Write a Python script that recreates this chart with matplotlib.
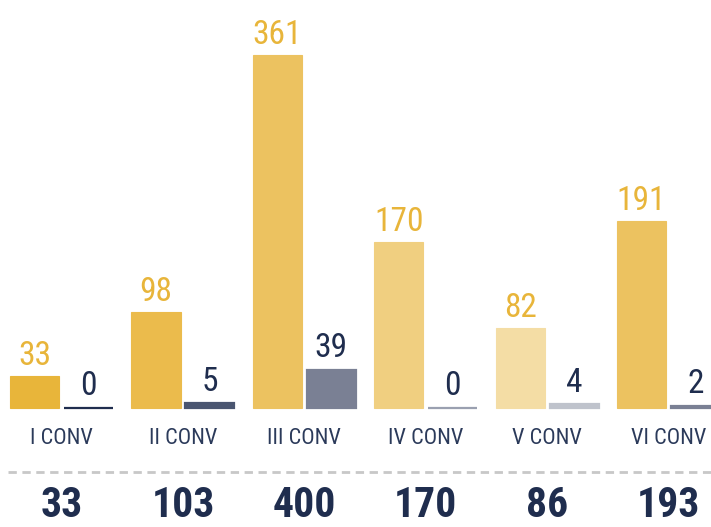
import matplotlib
matplotlib.use("Agg")
import matplotlib.pyplot as plt
from matplotlib import font_manager
import numpy as np

# data
categories = ["I CONV", "II CONV", "III CONV", "IV CONV", "V CONV", "VI CONV"]
primary = [33, 98, 361, 170, 82, 191]
secondary = [0, 5, 39, 0, 4, 2]
totals = [33, 103, 400, 170, 86, 193]

gold_colors = ["#E8B53A", "#EBBB4C", "#ECC260", "#F0CF80", "#F4DDA5", "#ECC260"]
grey_colors = ["#1F2D4E", "#4A5570", "#7A8094", "#9AA0B0", "#BFC3CC", "#7A8094"]
NAVY = "#1F2D4E"
GOLD_TXT = "#E8B53A"

names = {f.name for f in font_manager.fontManager.ttflist}
FONT = [n for n in ["Roboto Condensed", "Liberation Sans Narrow", "Roboto"] if n in names] + ["DejaVu Sans"]
narrow = FONT[0] != "Roboto"

fig = plt.figure(figsize=(7.11, 5.27), dpi=100)
ax = fig.add_axes([0, 0, 1, 1])
ax.set_xlim(-0.507, 5.35)
ax.set_ylim(-121.7, 417.2)
ax.axis("off")

x = np.arange(len(categories))
w = 0.404
off = 0.222

ax.bar(x - off, primary, w, color=gold_colors, edgecolor=gold_colors, linewidth=0.8)
ax.bar(x + off, secondary, w, color=grey_colors, edgecolor=grey_colors, linewidth=1.6)

val_fs = 24 if narrow else 21
cat_fs = 16 if narrow else 14
tot_fs = 30 if narrow else 27

for xi, v in zip(x, primary):
    ax.annotate(str(v), (xi - off, v), xytext=(0, 3), textcoords="offset points",
                ha="center", va="bottom", fontsize=val_fs, color=GOLD_TXT, family=FONT)
for xi, v in zip(x, secondary):
    ax.annotate(str(v), (xi + off, v), xytext=(0, 4), textcoords="offset points",
                ha="center", va="bottom", fontsize=val_fs, color=NAVY, family=FONT)

for xi, c in zip(x, categories):
    ax.text(xi, -30.7, c, ha="center", va="center", fontsize=cat_fs, color="#2B3A5A", family=FONT)

ax.plot([-0.44, 5.35], [-65.4, -65.4], color="#C8C8C8", lw=2, ls=(0, (3, 2)))

for xi, t in zip(x, totals):
    ax.text(xi, -100, str(t), ha="center", va="center", fontsize=tot_fs, fontweight="bold",
            color=NAVY, family=FONT)

fig.savefig("out.png", dpi=100)
